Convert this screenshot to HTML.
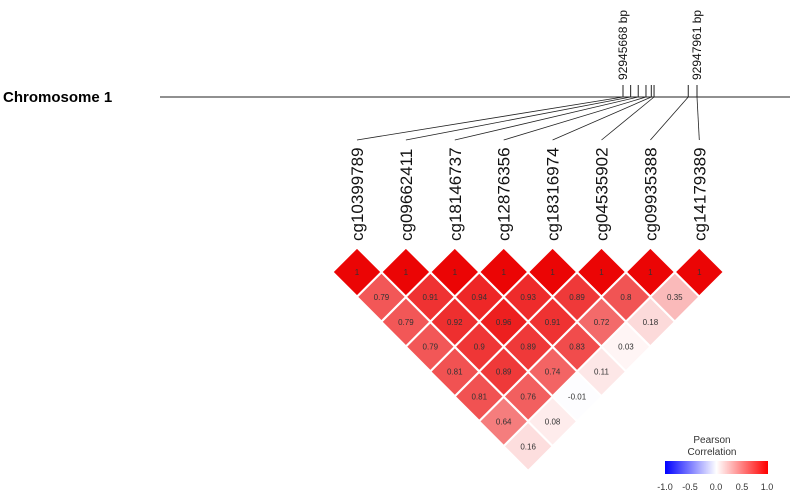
<!DOCTYPE html>
<html><head><meta charset="utf-8"><style>
body{margin:0;background:#fff;}
svg{display:block;font-family:"Liberation Sans",Arial,sans-serif;}
</style></head><body>
<svg id="chart" width="790" height="496" viewBox="0 0 790 496">
<defs>
<linearGradient id="lg" x1="0" x2="1" y1="0" y2="0">
<stop offset="0" stop-color="#0000ff"/><stop offset="0.5" stop-color="#ffffff"/><stop offset="1" stop-color="#ff0000"/>
</linearGradient>
</defs>
<text x="3" y="102" font-size="15" font-weight="bold">Chromosome 1</text>
<line x1="160" y1="97" x2="790" y2="97" stroke="#222" stroke-width="1"/>
<g id="ticks"></g>
<g id="conn"></g>
<g id="labels"></g>
<g id="cells"></g>
<g>
<text x="712" y="443" font-size="10" text-anchor="middle" fill="#333">Pearson</text>
<text x="712" y="455" font-size="10" text-anchor="middle" fill="#333">Correlation</text>
<rect x="665" y="461" width="103" height="13" fill="url(#lg)"/>
<text x="665" y="490" font-size="9" text-anchor="middle" fill="#333">-1.0</text>
<text x="690" y="490" font-size="9" text-anchor="middle" fill="#333">-0.5</text>
<text x="716" y="490" font-size="9" text-anchor="middle" fill="#333">0.0</text>
<text x="742" y="490" font-size="9" text-anchor="middle" fill="#333">0.5</text>
<text x="767" y="490" font-size="9" text-anchor="middle" fill="#333">1.0</text>
</g>
</svg>
<script>
const probes = ["cg10399789","cg09662411","cg18146737","cg12876356","cg18316974","cg04535902","cg09935388","cg14179389"];
const genomicPos = [92945668,92945905,92946140,92946380,92946545,92946630,92947690,92947961];
const lag1 = [0.79,0.91,0.94,0.93,0.89,0.8,0.35];
const lag2 = [0.79,0.92,0.96,0.91,0.72,0.18];
const lag3 = [0.79,0.9,0.89,0.83,0.03];
const lag4 = [0.81,0.89,0.74,0.11];
const lag5 = [0.81,0.76,-0.01];
const lag6 = [0.64,0.08];
const lag7 = [0.16];
const endLabels = ["92945668 bp","92947961 bp"];

const NS="http://www.w3.org/2000/svg";
function mk(tag,attrs,parent){const e=document.createElementNS(NS,tag);for(const k in attrs)e.setAttribute(k,attrs[k]);parent.appendChild(e);return e;}
const gPos0=genomicPos[0], gPos1=genomicPos[genomicPos.length-1];
function xGen(p){return 623+(p-gPos0)/(gPos1-gPos0)*(697-623);}
const X0=357, DX=48.9, Y0=272, DY=24.9, H=24.2;
function xProbe(i){return X0+i*DX;}
function color(v){
  const t=Math.max(-1,Math.min(1,v));
  if(t>=0){const f=Math.pow(1-t,0.7);const r=Math.round(235+20*f),g=Math.round(5+245*f),b=Math.round(5+245*f);return `rgb(${r},${g},${b})`;}
  const c=Math.round(255*Math.pow(1+t,0.7));return `rgb(${c},${c},255)`;
}
const ticks=document.getElementById('ticks'),conn=document.getElementById('conn'),labels=document.getElementById('labels'),cells=document.getElementById('cells');
genomicPos.forEach((p,i)=>{
  const x=xGen(p);
  const t=mk('line',{x1:x,y1:85,x2:x,y2:97,stroke:'#222','stroke-width':1},ticks);
  
  
  const c=mk('line',{x1:x,y1:97,x2:xProbe(i),y2:140,stroke:'#222','stroke-width':0.8},conn);
  
  
  const lb=mk('text',{transform:`translate(${xProbe(i)+6},241) rotate(-90)`,'font-size':17,fill:'#111'},labels);
  lb.textContent=probes[i];
  
  
});
[0,genomicPos.length-1].forEach((idx,k)=>{
  const x=xGen(genomicPos[idx]);
  const t=mk('text',{transform:`translate(${x+4},80) rotate(-90)`,'font-size':12,fill:'#111'},labels);
  t.textContent=endLabels[k];
  
  
});
const lags=[null,lag1,lag2,lag3,lag4,lag5,lag6,lag7];
function cell(i,k,v){
  const cx=(xProbe(i)+xProbe(i+k))/2, cy=Y0+k*DY;
  const p=mk('polygon',{points:`${cx},${cy-H} ${cx+H},${cy} ${cx},${cy+H} ${cx-H},${cy}`,fill:color(v),stroke:'#fff','stroke-width':1.5},cells);
  
  
  const t=mk('text',{x:cx,y:cy+3,'font-size':8,'text-anchor':'middle',fill:'#333'},cells);
  t.textContent=String(v);
  
  
}
probes.forEach((_,i)=>cell(i,0,1));
for(let k=1;k<lags.length;k++)lags[k].forEach((v,i)=>cell(i,k,v));
</script>
</body></html>
